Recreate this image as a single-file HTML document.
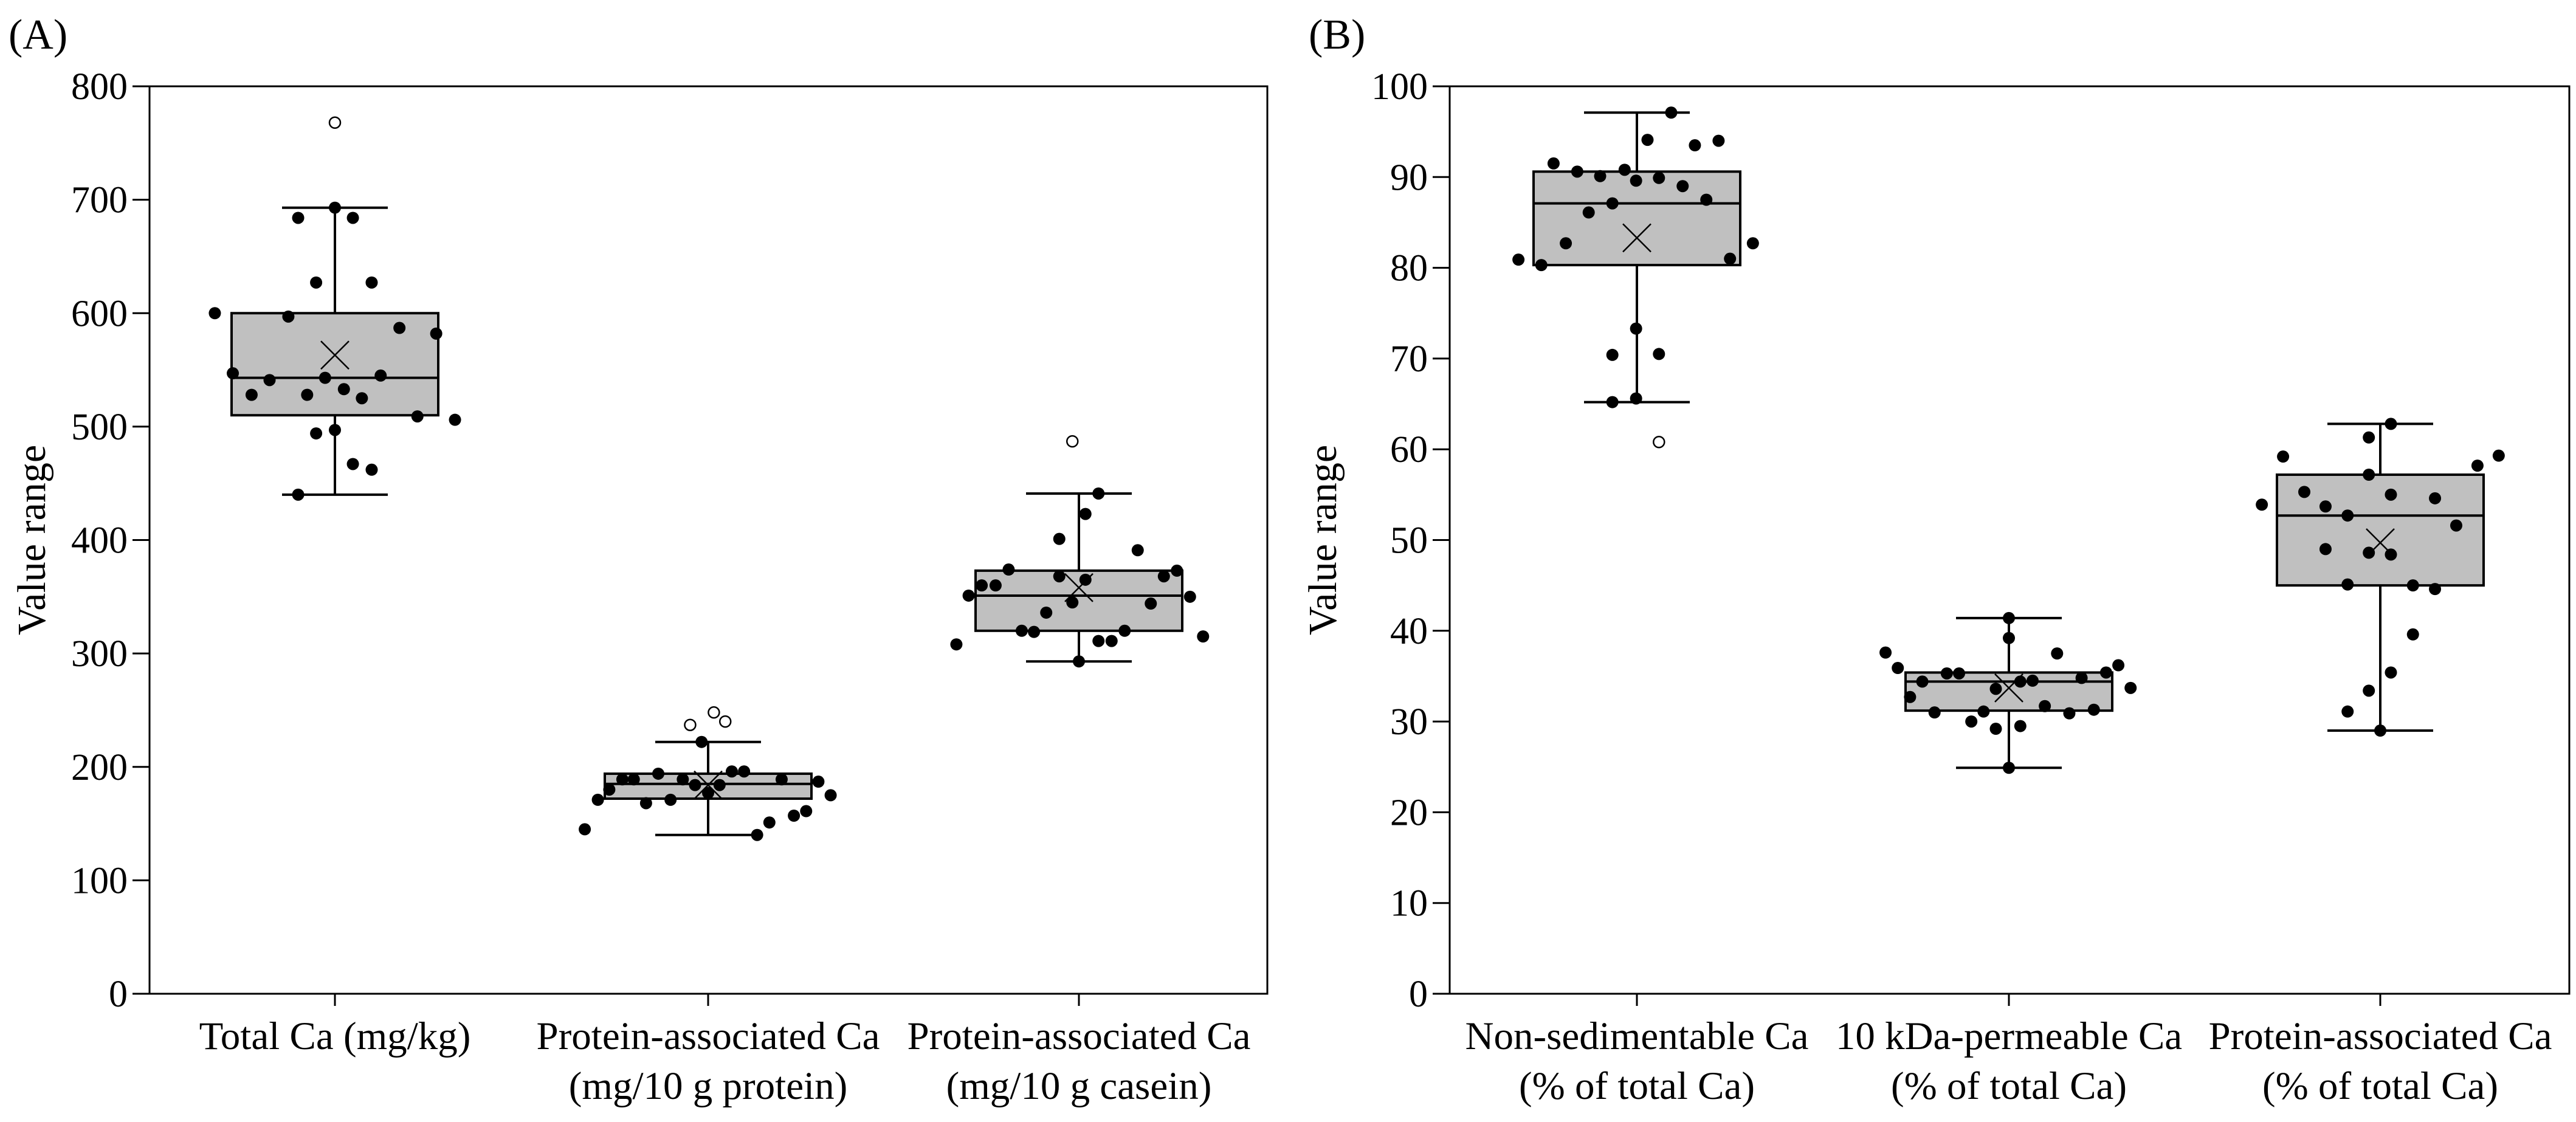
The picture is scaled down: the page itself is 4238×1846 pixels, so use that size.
<!DOCTYPE html>
<html><head><meta charset="utf-8"><style>
html,body{margin:0;padding:0;background:#fff;}
svg{display:block;font-family:"Liberation Serif",serif;}
</style></head><body>
<svg id="chart" width="4238" height="1846" viewBox="0 0 4238 1846" xmlns="http://www.w3.org/2000/svg"></svg>
<script>
// ---------- Panel A data ----------
const catsA = [["Total Ca (mg/kg)",""],["Protein-associated Ca","(mg/10 g protein)"],["Protein-associated Ca","(mg/10 g casein)"]];
const ticksA = [0,100,200,300,400,500,600,700,800];
const statsA_q1 = [510,172,320];
const statsA_med = [543,185,351];
const statsA_q3 = [600,194,373];
const statsA_lo = [440,140,293];
const statsA_hi = [693,222,441];
const statsA_mean = [563,184,358];
const outA_vals = [[768],[237,248,240],[487]];
const outA_jit = [[0],[-22,7,21],[-8]];
const ptsA1_vals = [600,547,528,541,597,684,528,627,494,543,693,497,533,684,467,525,627,462,545,587,509,582,506,440];
const ptsA1_jit = [-147,-125,-102,-80,-57,-45,-34,-23,-23,-12,0,0,11,22,22,33,45,45,56,79,101,124,147,-45];
const ptsA2_vals = [145,171,180,189,189,168,194,171,189,184,222,177,184,196,196,140,151,189,157,161,187,175];
const ptsA2_jit = [-151,-135,-121,-105,-91,-76,-61,-46,-31,-16,-8,0,14,29,44,60,75,90,105,120,135,150];
const ptsA3_vals = [308,351,360,360,374,320,319,336,368,345,293,365,423,401,441,311,311,320,391,344,368,373,350,315];
const ptsA3_jit = [-150,-135,-119,-102,-86,-70,-55,-40,-24,-8,0,8,8,-24,24,24,40,56,72,88,104,120,136,152];
// ---------- Panel B data ----------
const catsB = [["Non-sedimentable Ca","(% of total Ca)"],["10 kDa-permeable Ca","(% of total Ca)"],["Protein-associated Ca","(% of total Ca)"]];
const ticksB = [0,10,20,30,40,50,60,70,80,90,100];
const statsB_q1 = [80.3,31.2,45.0];
const statsB_med = [87.1,34.4,52.7];
const statsB_q3 = [90.6,35.4,57.2];
const statsB_lo = [65.2,24.9,29.0];
const statsB_hi = [97.1,41.4,62.8];
const statsB_mean = [83.3,33.7,49.7];
const outB_vals = [[60.8],[],[]];
const outB_jit = [[27],[],[]];
const ptsB1_vals = [80.9,80.3,91.5,82.7,90.6,86.1,90.1,87.1,70.4,65.2,90.8,89.6,73.3,65.6,94.1,89.9,70.5,97.1,89.0,93.5,87.5,94.0,81.0,82.7];
const ptsB1_jit = [-145,-117,-102,-87,-73,-59,-45,-30,-30,-30,-15,-1,-1,-1,13,27,27,42,56,71,85,100,114,142];
const ptsB2_vals = [37.6,35.9,32.7,34.4,31.0,35.3,35.3,30.0,31.1,33.6,29.2,41.4,39.2,24.9,34.4,29.5,34.5,31.7,37.5,30.9,34.8,31.3,35.4,36.2,33.7];
const ptsB2_jit = [-151,-136,-121,-106,-91,-76,-61,-46,-31,-16,-16,0,0,0,14,14,29,44,59,74,89,104,119,134,149];
const ptsB3_vals = [53.9,59.2,55.3,53.7,49.0,52.7,45.1,31.1,61.3,57.2,48.6,33.4,29.0,62.8,55.0,48.4,35.4,45.0,39.6,54.6,44.6,51.6,58.2,59.3];
const ptsB3_jit = [-145,-119,-93,-67,-67,-40,-40,-40,-14,-14,-14,-14,0,13,13,13,13,40,40,67,67,93,119,145];

const NS="http://www.w3.org/2000/svg";
const svg=document.getElementById('chart');
function mk(tag,attrs,parent){const e=document.createElementNS(NS,tag);for(const k in attrs)e.setAttribute(k,attrs[k]);(parent||svg).appendChild(e);return e;}

function panel(cfg){
  const g=mk('g',{});
  
  
  const L=cfg.left,R=cfg.right,T=142,B=1635,max=cfg.ticks[cfg.ticks.length-1];
  const y=v=>B-(v/max)*(B-T);
  const boxW=340, jitScale=boxW/253;
  const xc=i=>cfg.centers[i];
  const lab=mk('text',{x:cfg.labelX,y:80,'font-size':70,fill:'#000'},g);lab.textContent=cfg.label;
  
  
  const fr=mk('rect',{x:L,y:T,width:R-L,height:B-T,fill:'none',stroke:'#000','stroke-width':3},g);
  
  
  cfg.ticks.forEach(t=>{
    mk('line',{x1:L-28,x2:L,y1:y(t),y2:y(t),stroke:'#000','stroke-width':3},g);
    const tx=mk('text',{x:L-36,y:y(t)+21,'font-size':62,'text-anchor':'end',fill:'#000'},g);tx.textContent=t;
    
    
  });
  const yt=mk('text',{x:0,y:0,'font-size':66,'text-anchor':'middle',fill:'#000',transform:`translate(${cfg.ytitleX},${(T+B)/2}) rotate(-90)`},g);
  yt.textContent='Value range';
  
  
  for(let i=0;i<3;i++){
    const c=xc(i);
    mk('line',{x1:c,x2:c,y1:B,y2:B+20,stroke:'#000','stroke-width':3},g);
    cfg.cats[i].forEach((s,j)=>{
      if(!s)return;
      const t=mk('text',{x:c,y:1726+j*82,'font-size':65,'text-anchor':'middle',fill:'#000'},g);t.textContent=s;
      
      
    });
    mk('line',{x1:c,x2:c,y1:y(cfg.hi[i]),y2:y(cfg.lo[i]),stroke:'#000','stroke-width':4},g);
    [cfg.hi[i],cfg.lo[i]].forEach(v=>mk('line',{x1:c-87,x2:c+87,y1:y(v),y2:y(v),stroke:'#000','stroke-width':4},g));
    const bx=mk('rect',{x:c-boxW/2,y:y(cfg.q3[i]),width:boxW,height:y(cfg.q1[i])-y(cfg.q3[i]),fill:'#c0c0c0',stroke:'#000','stroke-width':4},g);
    
    
    mk('line',{x1:c-boxW/2,x2:c+boxW/2,y1:y(cfg.med[i]),y2:y(cfg.med[i]),stroke:'#000','stroke-width':4},g);
    cfg.pv[i].forEach((v,k)=>{
      const p=mk('circle',{cx:c+cfg.pj[i][k]*jitScale,cy:y(v),r:10,fill:'#000'},g);
      
      
    });
    cfg.ov[i].forEach((v,k)=>{
      const p=mk('circle',{cx:c+cfg.oj[i][k]*jitScale,cy:y(v),r:9,fill:'#fff',stroke:'#000','stroke-width':2.5},g);
      
      
    });
    const m=y(cfg.mean[i]);
    mk('path',{d:`M${c-23},${m-23}L${c+23},${m+23}M${c-23},${m+23}L${c+23},${m-23}`,stroke:'#000','stroke-width':2.5,fill:'none'},g);
  }
}
panel({name:'panel-a',label:'(A)',labelX:14,left:246,right:2085,ytitleX:74,centers:[551,1165,1775],ticks:ticksA,cats:catsA,
  q1:statsA_q1,med:statsA_med,q3:statsA_q3,lo:statsA_lo,hi:statsA_hi,mean:statsA_mean,
  pv:[ptsA1_vals,ptsA2_vals,ptsA3_vals],pj:[ptsA1_jit,ptsA2_jit,ptsA3_jit],ov:outA_vals,oj:outA_jit});
panel({name:'panel-b',label:'(B)',labelX:2153,left:2385,right:4227,ytitleX:2198,centers:[2693,3305,3916],ticks:ticksB,cats:catsB,
  q1:statsB_q1,med:statsB_med,q3:statsB_q3,lo:statsB_lo,hi:statsB_hi,mean:statsB_mean,
  pv:[ptsB1_vals,ptsB2_vals,ptsB3_vals],pj:[ptsB1_jit,ptsB2_jit,ptsB3_jit],ov:outB_vals,oj:outB_jit});
</script>
</body></html>
